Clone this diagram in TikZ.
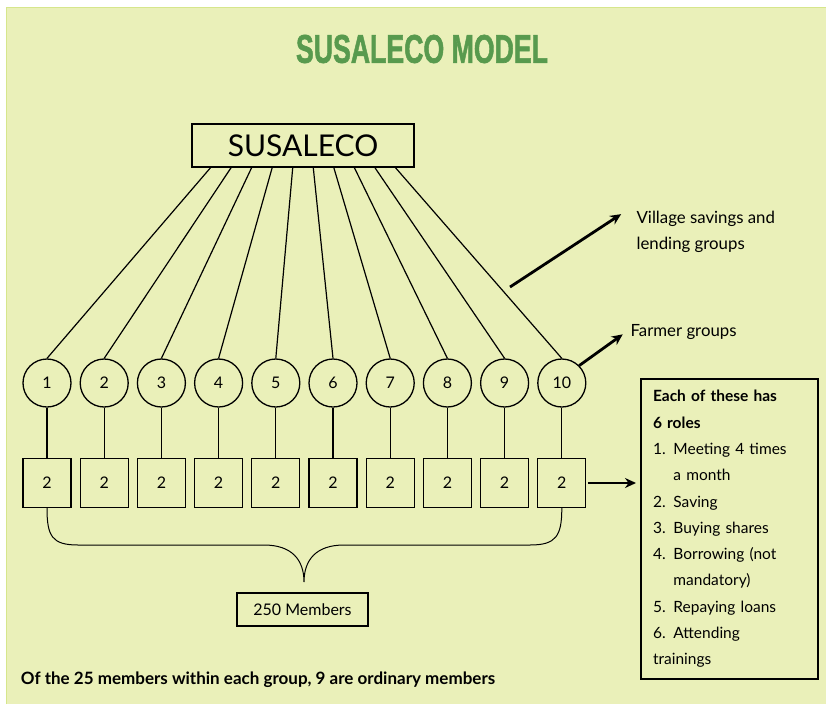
\documentclass[tikz,border=0pt]{standalone}
\usepackage{fontspec}
\setmainfont{Lato}
\newfontfamily\titlefont[BoldFeatures={FakeBold=1.6}]{Liberation Sans}
\usetikzlibrary{calc,arrows.meta}

\definecolor{bgyellow}{RGB}{234,240,185}
\definecolor{bgedge}{RGB}{214,230,140}
\definecolor{titlegreen}{RGB}{88,154,78}

\begin{document}
\begin{tikzpicture}[x=1pt,y=-1pt,
  line width=1.2pt,
  group node/.style={circle,draw,line width=1.3pt,minimum size=48pt,inner sep=0pt,font=\fontsize{16}{18}\selectfont},
  member node/.style={rectangle,draw,line width=1.3pt,minimum width=48pt,minimum height=49pt,inner sep=0pt,font=\fontsize{16}{18}\selectfont},
  label node/.style={align=left,font=\fontsize{16.8}{26}\selectfont,inner sep=4pt},
  arr/.style={line width=2.8pt,-{Stealth[length=11pt,width=10pt]}}]

  \useasboundingbox (0,0) rectangle (826,704);
  \fill[bgyellow] (6,7) rectangle (826,704);
  \draw[bgedge,line width=1pt] (6,704) -- (6,7) -- (826,7);

  \node[text=titlegreen] (title) at (422,49) {\resizebox{252pt}{28pt}{\titlefont\bfseries SUSALECO MODEL}};

  \node[draw,line width=1.6pt,minimum width=222pt,minimum height=43pt,font=\fontsize{30}{32}\selectfont] (top) at (303,145.5) {SUSALECO};

  \node[group node] (c1) at (47,383) {1};
  \node[group node] (c2) at (104.2,383) {2};
  \node[group node] (c3) at (161.4,383) {3};
  \node[group node] (c4) at (218.6,383) {4};
  \node[group node] (c5) at (275.8,383) {5};
  \node[group node] (c6) at (333,383) {6};
  \node[group node] (c7) at (390.2,383) {7};
  \node[group node] (c8) at (447.4,383) {8};
  \node[group node] (c9) at (504.6,383) {9};
  \node[group node] (c10) at (561.8,383) {10};

  \node[member node] (s1) at (47,483) {2};
  \node[member node] (s2) at (104.2,483) {2};
  \node[member node] (s3) at (161.4,483) {2};
  \node[member node] (s4) at (218.6,483) {2};
  \node[member node] (s5) at (275.8,483) {2};
  \node[member node] (s6) at (333,483) {2};
  \node[member node] (s7) at (390.2,483) {2};
  \node[member node] (s8) at (447.4,483) {2};
  \node[member node] (s9) at (504.6,483) {2};
  \node[member node] (s10) at (561.8,483) {2};

  \path
   ($(top.south west)!.086!(top.south east)$) edge (c1.north)
   ($(top.south west)!.178!(top.south east)$) edge (c2.north)
   ($(top.south west)!.270!(top.south east)$) edge (c3.north)
   ($(top.south west)!.362!(top.south east)$) edge (c4.north)
   ($(top.south west)!.454!(top.south east)$) edge (c5.north)
   ($(top.south west)!.546!(top.south east)$) edge (c6.north)
   ($(top.south west)!.638!(top.south east)$) edge (c7.north)
   ($(top.south west)!.730!(top.south east)$) edge (c8.north)
   ($(top.south west)!.822!(top.south east)$) edge (c9.north)
   ($(top.south west)!.914!(top.south east)$) edge (c10.north);

  \path
   (c1) edge (s1)
   (c2) edge (s2)
   (c3) edge (s3)
   (c4) edge (s4)
   (c5) edge (s5)
   (c6) edge (s6)
   (c7) edge (s7)
   (c8) edge (s8)
   (c9) edge (s9)
   (c10) edge (s10);

  % brace under the member boxes
  \coordinate (tip) at (304,582);
  \draw[line width=1pt] (s1.south) .. controls +(0,28) and +(-26,0) .. (78,545) -- (264,545)
    .. controls +(28,0) and +(0,-22) .. (tip)
    .. controls +(0,-22) and +(-28,0) .. (344,545) -- (530,545)
    .. controls +(26,0) and +(0,28) .. (s10.south);

  \node[draw,line width=1.5pt,minimum width=131pt,minimum height=33pt,font=\fontsize{16}{18}\selectfont] (total) at (302.5,609.5) {250 Members};

  \node[draw,line width=2pt,anchor=north west,minimum width=177pt,minimum height=300pt,text width=153pt,inner xsep=12pt,align=left,font=\fontsize{15.5}{26.3}\selectfont] (roles) at (640,378)
   {\textbf{Each of these has}\\
    \textbf{6 roles}\\
    1. Meeting 4 times\\
    \hphantom{1. }a month\\
    2. Saving\\
    3. Buying shares\\
    4. Borrowing (not\\
    \hphantom{4. }mandatory)\\
    5. Repaying loans\\
    6. Attending\\
    trainings};

  \node[label node,anchor=north west] (vs) at (632,207) {Village savings and\\lending groups};
  \node[label node,anchor=west] (fg) at (626,332) {Farmer groups};
  \coordinate (va) at (510,287);

  \draw[arr,shorten >=13pt] (va) -- (vs.north west);
  \draw[arr,shorten >=4pt] (c10.north east) -- (fg.west);
  \draw[arr,shorten <=1.5pt,shorten >=4pt] (s10.east) -- (s10.east -| roles.west);

  \node[anchor=west,font=\fontsize{17}{19}\selectfont\bfseries] (note) at (17,680) {Of the 25 members within each group, 9 are ordinary members};
\end{tikzpicture}
\end{document}
